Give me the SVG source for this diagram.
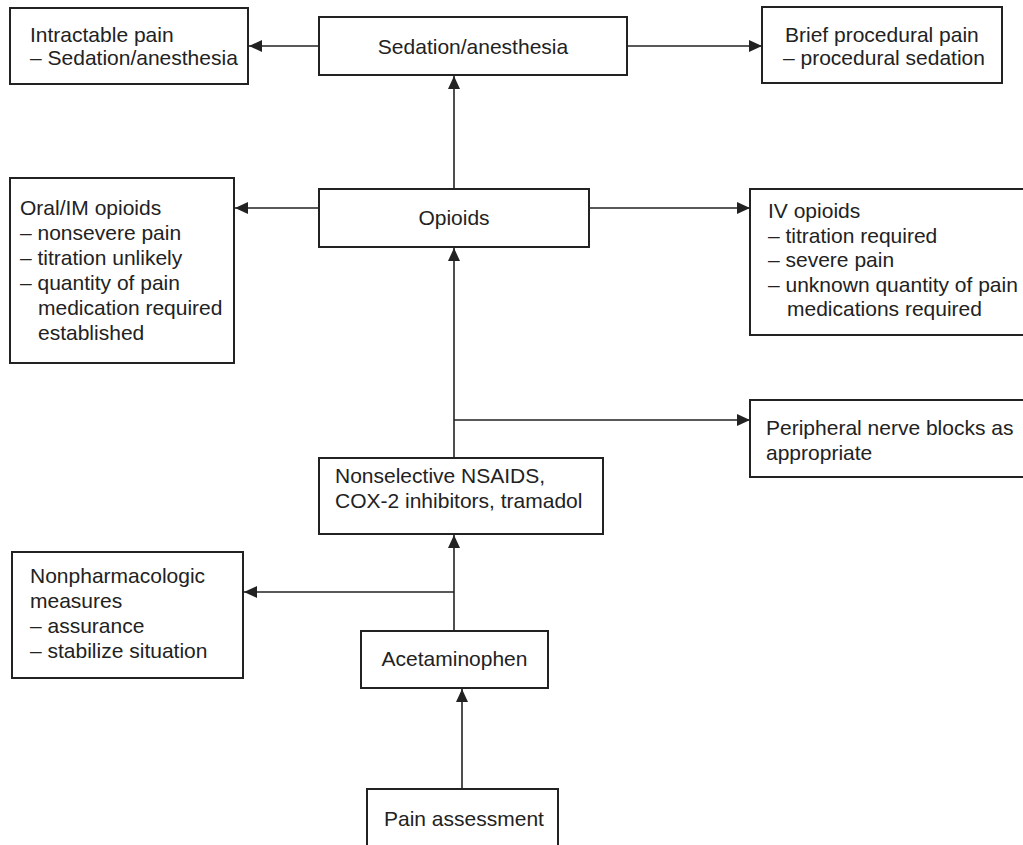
<svg xmlns="http://www.w3.org/2000/svg" width="1023" height="845" viewBox="0 0 1023 845">
  <style>
    .box { fill: #ffffff; stroke: #222222; stroke-width: 2; }
    .lbl { font-family: "Liberation Sans", Arial, sans-serif; font-size: 21px; fill: #222222; }
    .mid { text-anchor: middle; }
    .wire { fill: none; stroke: #222222; stroke-width: 1.6; }
  </style>
  <defs>
    <marker id="arrow" markerUnits="userSpaceOnUse" markerWidth="14" markerHeight="12" refX="13" refY="6" orient="auto">
      <path d="M0,0 L13,6 L0,12 Z" fill="#222222"/>
    </marker>
  </defs>

  <rect width="1023" height="845" fill="#ffffff"/>

  <!-- connectors -->
  <g id="connectors">
    <path class="wire" d="M319,46 H249" marker-end="url(#arrow)"/>
    <path class="wire" d="M627,46 H762" marker-end="url(#arrow)"/>
    <path class="wire" d="M454,189 V76" marker-end="url(#arrow)"/>
    <path class="wire" d="M319,208 H235" marker-end="url(#arrow)"/>
    <path class="wire" d="M589,208 H750" marker-end="url(#arrow)"/>
    <path class="wire" d="M454,458 V248" marker-end="url(#arrow)"/>
    <path class="wire" d="M454,420 H750" marker-end="url(#arrow)"/>
    <path class="wire" d="M454,631 V535" marker-end="url(#arrow)"/>
    <path class="wire" d="M454,592 H244" marker-end="url(#arrow)"/>
    <path class="wire" d="M462,789 V689" marker-end="url(#arrow)"/>
  </g>

  <g id="intractable">
    <rect class="box" x="10" y="8" width="238" height="76"/>
    <text class="lbl" x="30" y="42">Intractable pain</text>
    <text class="lbl" x="30" y="65">– Sedation/anesthesia</text>
  </g>

  <g id="sedation">
    <rect class="box" x="319" y="17" width="308" height="58"/>
    <text class="lbl mid" x="473" y="54">Sedation/anesthesia</text>
  </g>

  <g id="brief">
    <rect class="box" x="762" y="7" width="240" height="76"/>
    <text class="lbl" x="785" y="42">Brief procedural pain</text>
    <text class="lbl" x="783" y="65">– procedural sedation</text>
  </g>

  <g id="oral">
    <rect class="box" x="10" y="178" width="224" height="185"/>
    <text class="lbl" x="20" y="215">Oral/IM opioids</text>
    <text class="lbl" x="20" y="240">– nonsevere pain</text>
    <text class="lbl" x="20" y="265">– titration unlikely</text>
    <text class="lbl" x="20" y="290">– quantity of pain</text>
    <text class="lbl" x="38" y="315">medication required</text>
    <text class="lbl" x="38" y="340">established</text>
  </g>

  <g id="opioids">
    <rect class="box" x="319" y="189" width="270" height="58"/>
    <text class="lbl mid" x="454" y="225">Opioids</text>
  </g>

  <g id="iv">
    <rect class="box" x="750" y="189" width="290" height="146"/>
    <text class="lbl" x="768" y="218">IV opioids</text>
    <text class="lbl" x="768" y="243">– titration required</text>
    <text class="lbl" x="768" y="267">– severe pain</text>
    <text class="lbl" x="768" y="292">– unknown quantity of pain</text>
    <text class="lbl" x="787" y="316">medications required</text>
  </g>

  <g id="peripheral">
    <rect class="box" x="750" y="400" width="290" height="77"/>
    <text class="lbl" x="766" y="435">Peripheral nerve blocks as</text>
    <text class="lbl" x="766" y="460">appropriate</text>
  </g>

  <g id="nsaids">
    <rect class="box" x="319" y="458" width="284" height="76"/>
    <text class="lbl" x="335" y="483">Nonselective NSAIDS,</text>
    <text class="lbl" x="335" y="508">COX-2 inhibitors, tramadol</text>
  </g>

  <g id="nonpharm">
    <rect class="box" x="12" y="552" width="231" height="126"/>
    <text class="lbl" x="30" y="583">Nonpharmacologic</text>
    <text class="lbl" x="30" y="608">measures</text>
    <text class="lbl" x="30" y="633">– assurance</text>
    <text class="lbl" x="30" y="658">– stabilize situation</text>
  </g>

  <g id="acetaminophen">
    <rect class="box" x="361" y="631" width="187" height="57"/>
    <text class="lbl mid" x="454.5" y="666">Acetaminophen</text>
  </g>

  <g id="assessment">
    <rect class="box" x="367" y="789" width="191" height="70"/>
    <text class="lbl" x="384" y="826">Pain assessment</text>
  </g>
</svg>
